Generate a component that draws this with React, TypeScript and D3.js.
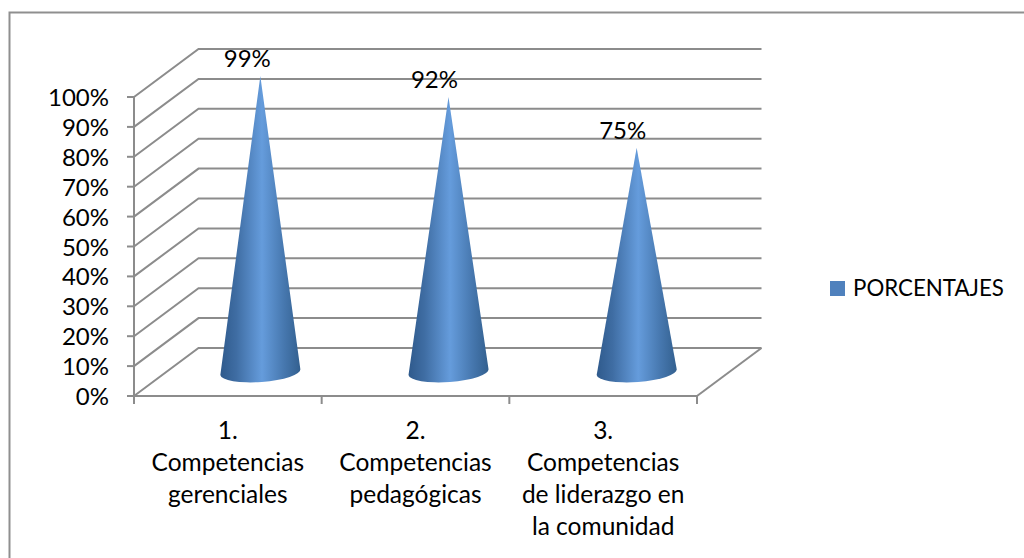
import React from 'react';
import * as d3 from 'd3';

const categories = [
  ['1.', 'Competencias', 'gerenciales'],
  ['2.', 'Competencias', 'pedagógicas'],
  ['3.', 'Competencias', 'de liderazgo en', 'la comunidad'],
];
const values = [99, 92, 75];
const valueLabels = ['99%', '92%', '75%'];
const yTicks = [0, 10, 20, 30, 40, 50, 60, 70, 80, 90, 100];
const seriesName = 'PORCENTAJES';

const W = 1024, H = 558;
const dx = 64.5, dy = -48;
const font = 'Lato, Carlito, sans-serif';
const grid = '#8c8c8c';
const labelDx = [-13, -14, -14];

export default function App() {
  const y = d3.scaleLinear().domain([0, 100]).range([396, 97]);
  const x = d3.scaleBand<number>().domain([0, 1, 2]).range([134, 697]);
  const coneX = d3.scaleBand<number>().domain([0, 1, 2]).range([134.5, 699]);
  const baseY = y(0) + dy / 2;
  const halfW = 40;
  const ry = 10;
  const tilt = 3;
  return (
    <svg width={W} height={H} viewBox={`0 0 ${W} ${H}`}
      style={{ position: 'fixed', left: 0, top: 0, background: '#fff', fontFamily: font }}>
      <defs>
        <linearGradient id="cone" x1="0" x2="1" y1="0" y2="0">
          <stop offset="0" stopColor="#2f5a8c" />
          <stop offset="0.2" stopColor="#3f6da3" />
          <stop offset="0.52" stopColor="#659cdc" />
          <stop offset="0.8" stopColor="#4677ae" />
          <stop offset="1" stopColor="#33608f" />
        </linearGradient>
      </defs>
      <path d={`M1024 12.5 H9.5 V558`} fill="none" stroke="#8f8f8f" strokeWidth={2} />
      {yTicks.map(t => (
        <path key={t}
          d={`M${x.range()[0]} ${y(t)} L${x.range()[0] + dx} ${y(t) + dy} H${x.range()[1] + dx}`}
          fill="none" stroke={grid} strokeWidth={2} />
      ))}
      <path d={`M${x.range()[1] + dx} ${y(0) + dy} L${x.range()[1]} ${y(0)}`} stroke={grid} strokeWidth={2} fill="none" />
      <path d={`M134 ${y(100)} V${y(0)} H${x.range()[1]}`} fill="none" stroke={grid} strokeWidth={2} />
      {yTicks.map(t => (
        <g key={t}>
          <line x1={127} x2={134} y1={y(t)} y2={y(t)} stroke={grid} strokeWidth={2} />
          <text x={109} y={y(t) + 9} textAnchor="end" fontSize={24} fill="#000">{t}%</text>
        </g>
      ))}
      {[0, 1, 2, 3].map(i => {
        const tx = 134 + x.step() * i;
        return <line key={i} x1={tx} x2={tx} y1={396} y2={404} stroke={grid} strokeWidth={2} />;
      })}
      {values.map((v, i) => {
        const cx = (coneX(i) as number) + coneX.bandwidth() / 2 + dx / 2 - 0.5;
        const apexY = y(v) + dy / 2;
        return (
          <g key={i}>
            <path
              d={`M${cx} ${apexY} L${cx + halfW} ${baseY - tilt} A${halfW} ${ry} -4 0 1 ${cx - halfW} ${baseY + tilt} Z`}
              fill="url(#cone)" />
            <text x={cx + labelDx[i]} y={apexY - 8.5} textAnchor="middle" fontSize={24} fill="#000">{valueLabels[i]}</text>
          </g>
        );
      })}
      {categories.map((lines, i) => {
        const cx = (x(i) as number) + x.bandwidth() / 2;
        return (
          <text key={i} textAnchor="middle" fontSize={24.5} fill="#000">
            {lines.map((l, j) => <tspan key={j} x={cx} y={439 + j * 32}>{l}</tspan>)}
          </text>
        );
      })}
      <rect x={830} y={281} width={15} height={15} fill="#4f81bd" />
      <text x={853} y={296} fontSize={22.3} fill="#000">{seriesName}</text>
    </svg>
  );
}
